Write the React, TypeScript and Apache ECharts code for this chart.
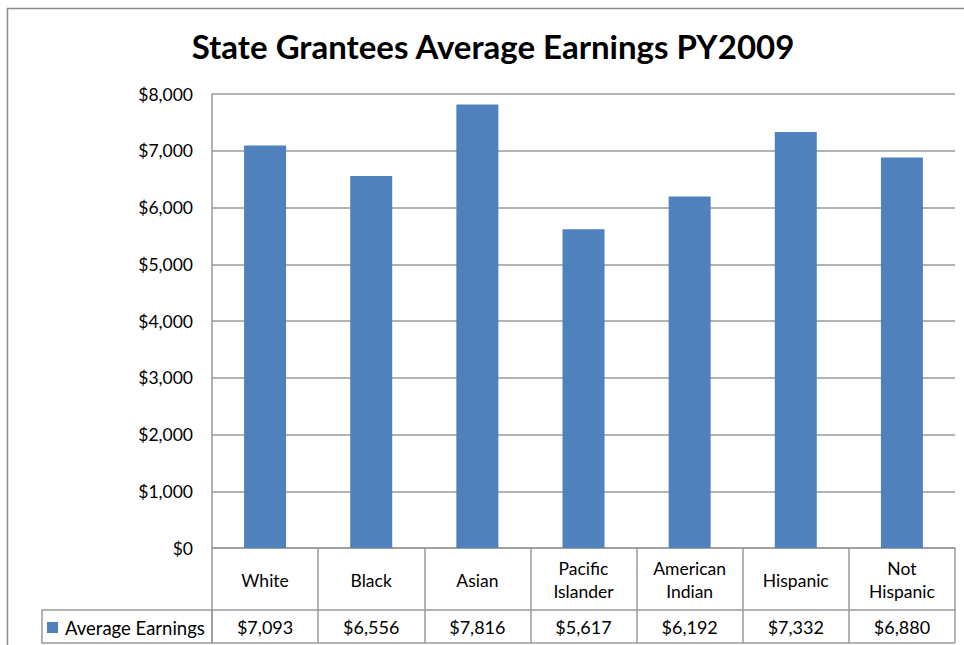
import React, { useEffect, useRef } from "react";
import * as echarts from "echarts";

const categories = ["White", "Black", "Asian", "Pacific Islander", "American Indian", "Hispanic", "Not Hispanic"];
const earnings = [7093, 6556, 7816, 5617, 6192, 7332, 6880];
const seriesName = "Average Earnings";
const titleText = "State Grantees Average Earnings PY2009";

const FONT = "Lato, 'Noto Sans', sans-serif";
const LINE = "#9a9a9a";
const BAR = "#4F81BD";

const money = (v: number) => "$" + v.toLocaleString("en-US");

export default function App() {
  const ref = useRef<HTMLDivElement>(null);
  useEffect(() => {
    if (!ref.current) return;
    const chart = echarts.init(ref.current, undefined, { renderer: "svg" });
    const gridL = 212, gridR = 964 - 955, gridT = 94, gridB = 645 - 548;
    chart.setOption({
      animation: false,
      backgroundColor: "#ffffff",
      textStyle: { fontFamily: FONT },
      title: {
        text: titleText,
        left: 493,
        textAlign: "center",
        top: 29,
        padding: 0,
        textStyle: { fontSize: 33, fontWeight: "bold", color: "#000", fontFamily: FONT },
      },
      legend: {
        data: [seriesName],
        left: 47,
        top: 618,
        padding: 0,
        icon: "rect",
        itemWidth: 11,
        itemHeight: 11,
        itemGap: 6,
        textStyle: { fontSize: 18.5, color: "#000", fontFamily: FONT, padding: [0, 0, 0, 2] },
      },
      grid: { left: gridL, right: gridR, top: gridT, bottom: gridB, containLabel: false },
      xAxis: [
        {
          type: "category",
          data: categories,
          position: "bottom",
          axisLine: { show: true, lineStyle: { color: LINE, width: 1.5 } },
          axisTick: { show: true, length: 62, lineStyle: { color: LINE, width: 1.5 } },
          axisLabel: {
            margin: 32,
            verticalAlign: "middle",
            lineHeight: 23,
            fontSize: 17.5,
            color: "#000",
            fontFamily: FONT,
            interval: 0,
            formatter: (v: string) => v.replace(" ", "\n"),
          },
        },
        {
          type: "category",
          data: categories,
          position: "bottom",
          offset: 62,
          axisLine: { show: true, lineStyle: { color: LINE, width: 1.5 } },
          axisTick: { show: true, length: 33, lineStyle: { color: LINE, width: 1.5 } },
          axisLabel: {
            margin: 17,
            verticalAlign: "middle",
            fontSize: 18,
            color: "#000",
            fontFamily: FONT,
            interval: 0,
            formatter: (_v: string, i: number) => money(earnings[i]),
          },
        },
      ],
      yAxis: {
        type: "value",
        min: 0,
        max: 8000,
        interval: 1000,
        axisLine: { show: true, lineStyle: { color: LINE, width: 1.5 } },
        axisTick: { show: false },
        splitLine: { show: true, lineStyle: { color: LINE, width: 1.5 } },
        axisLabel: {
          margin: 19,
          fontSize: 17.5,
          color: "#000",
          fontFamily: FONT,
          formatter: (v: number) => money(v),
        },
      },
      series: [
        {
          name: seriesName,
          type: "bar",
          data: earnings,
          barWidth: 42,
          itemStyle: { color: BAR },
        },
      ],
      graphic: [
        {
          type: "rect",
          shape: { x: 7.5, y: 8.5, width: 1000, height: 700 },
          style: { fill: "none", stroke: "#8c8c8c", lineWidth: 1.5 },
          silent: true,
        },
        {
          type: "rect",
          shape: { x: 42, y: 610, width: 170, height: 33 },
          style: { fill: "none", stroke: LINE, lineWidth: 1.5 },
          silent: true,
        },
        {
          type: "line",
          shape: { x1: 212, y1: 643, x2: 955, y2: 643 },
          style: { stroke: LINE, lineWidth: 1.5 },
          silent: true,
        },
      ],
    });
    return () => chart.dispose();
  }, []);
  return <div ref={ref} style={{ position: "fixed", left: 0, top: 0, width: 964, height: 645 }} />;
}
